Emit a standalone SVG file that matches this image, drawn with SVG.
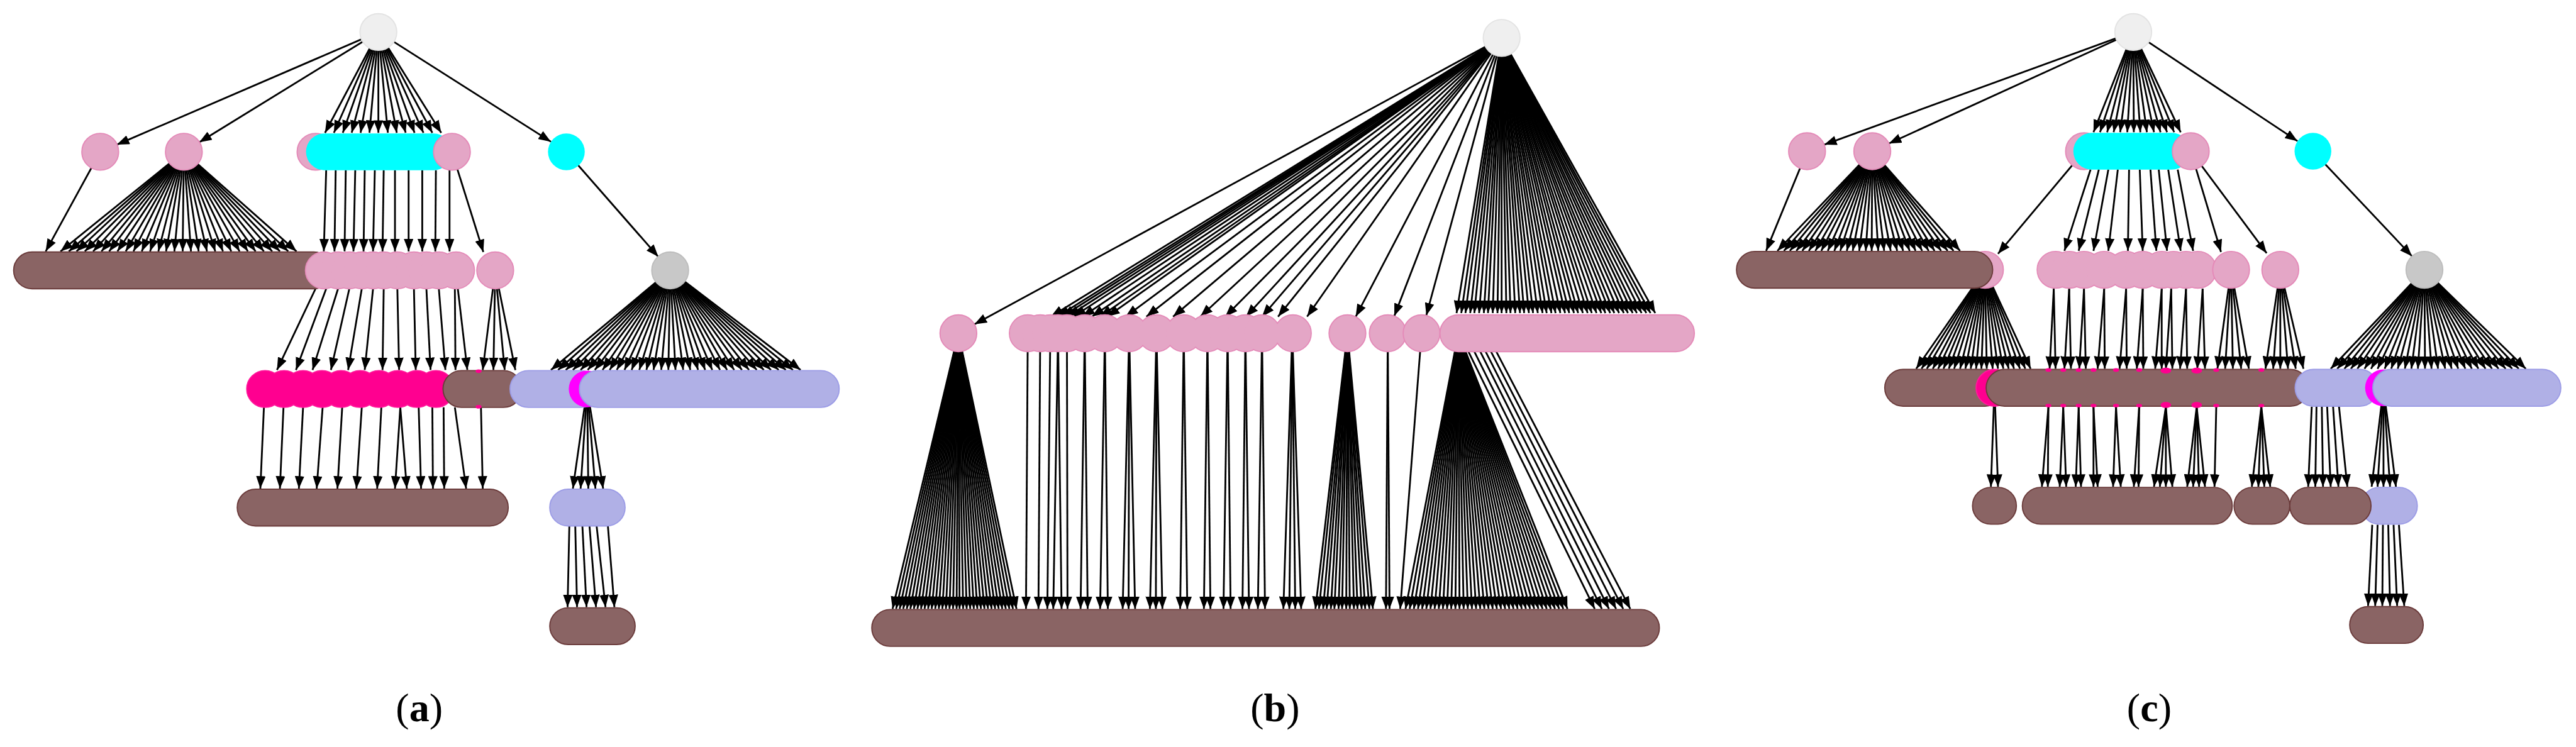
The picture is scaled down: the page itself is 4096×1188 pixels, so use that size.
<svg xmlns="http://www.w3.org/2000/svg" width="4096" height="1188" viewBox="0 0 4096 1188">
<style>
.e line{stroke:#000;stroke-width:3;marker-end:url(#ah)}
.pk{fill:#e4a6c6;stroke:#e48ab8;stroke-width:2}
.pf{fill:#e4a6c6}
.cy{fill:#00ffff}
.br{fill:#8a6464;stroke:#6b3b3b;stroke-width:2}
.lv{fill:#b0b0e6;stroke:#9c9ce6;stroke-width:2}
.mg{fill:#ff0090;stroke:#ff1a9c;stroke-width:2}
.mf{fill:#ff0090}
.mv{fill:#ff00ff}
.rt{fill:#efefef;stroke:#e3e3e3;stroke-width:2}
.gy{fill:#c8c8c8;stroke:#bdbdbd;stroke-width:2}
.lb{font-family:"Liberation Serif","DejaVu Serif",serif;font-size:68px;fill:#000}
</style>
<defs>
<marker id="ah" markerUnits="userSpaceOnUse" markerWidth="21" markerHeight="16" refX="21" refY="8" orient="auto"><path d="M0,0L21,8L0,16z" fill="#000"/></marker>
</defs>
<rect width="4096" height="1188" fill="#fff"/>
<g transform="scale(0.943)">
<g id="connectors" class="e">
<!-- panel a -->
<line x1="638" y1="54" x2="197" y2="244"/>
<line x1="638" y1="54" x2="336" y2="240"/>
<line x1="638" y1="54" x2="929" y2="239"/>
<line x1="638" y1="54" x2="548" y2="224"/><line x1="638" y1="54" x2="563" y2="224"/><line x1="638" y1="54" x2="578" y2="224"/><line x1="638" y1="54" x2="593" y2="224"/><line x1="638" y1="54" x2="608" y2="224"/><line x1="638" y1="54" x2="623" y2="224"/><line x1="638" y1="54" x2="638" y2="224"/><line x1="638" y1="54" x2="654" y2="224"/><line x1="638" y1="54" x2="669" y2="224"/><line x1="638" y1="54" x2="684" y2="224"/><line x1="638" y1="54" x2="699" y2="224"/><line x1="638" y1="54" x2="714" y2="224"/><line x1="638" y1="54" x2="729" y2="224"/><line x1="638" y1="54" x2="744" y2="224"/>
<line x1="169" y1="256" x2="77" y2="424"/>
<line x1="310" y1="256" x2="102" y2="424"/><line x1="310" y1="256" x2="116" y2="424"/><line x1="310" y1="256" x2="129" y2="424"/><line x1="310" y1="256" x2="143" y2="424"/><line x1="310" y1="256" x2="157" y2="424"/><line x1="310" y1="256" x2="171" y2="424"/><line x1="310" y1="256" x2="184" y2="424"/><line x1="310" y1="256" x2="198" y2="424"/><line x1="310" y1="256" x2="212" y2="424"/><line x1="310" y1="256" x2="225" y2="424"/><line x1="310" y1="256" x2="239" y2="424"/><line x1="310" y1="256" x2="253" y2="424"/><line x1="310" y1="256" x2="267" y2="424"/><line x1="310" y1="256" x2="280" y2="424"/><line x1="310" y1="256" x2="294" y2="424"/><line x1="310" y1="256" x2="308" y2="424"/><line x1="310" y1="256" x2="322" y2="424"/><line x1="310" y1="256" x2="335" y2="424"/><line x1="310" y1="256" x2="349" y2="424"/><line x1="310" y1="256" x2="363" y2="424"/><line x1="310" y1="256" x2="376" y2="424"/><line x1="310" y1="256" x2="390" y2="424"/><line x1="310" y1="256" x2="404" y2="424"/><line x1="310" y1="256" x2="418" y2="424"/><line x1="310" y1="256" x2="431" y2="424"/><line x1="310" y1="256" x2="445" y2="424"/><line x1="310" y1="256" x2="459" y2="424"/><line x1="310" y1="256" x2="472" y2="424"/><line x1="310" y1="256" x2="486" y2="424"/><line x1="310" y1="256" x2="500" y2="424"/>
<line x1="550" y1="287" x2="546" y2="424"/><line x1="566" y1="287" x2="564" y2="424"/><line x1="583" y1="287" x2="581" y2="424"/><line x1="599" y1="287" x2="596" y2="424"/><line x1="615" y1="287" x2="613" y2="424"/><line x1="632" y1="287" x2="629" y2="424"/><line x1="647" y1="287" x2="645" y2="424"/><line x1="666" y1="287" x2="666" y2="424"/><line x1="689" y1="287" x2="689" y2="424"/><line x1="712" y1="287" x2="712" y2="424"/><line x1="735" y1="287" x2="734" y2="424"/><line x1="758" y1="287" x2="758" y2="424"/>
<line x1="762" y1="256" x2="815" y2="425"/>
<line x1="955" y1="256" x2="1110" y2="433"/>
<line x1="532" y1="487" x2="467" y2="624"/><line x1="550" y1="487" x2="499" y2="624"/><line x1="570" y1="487" x2="527" y2="624"/><line x1="589" y1="487" x2="558" y2="624"/><line x1="610" y1="487" x2="587" y2="624"/><line x1="629" y1="487" x2="615" y2="624"/><line x1="647" y1="487" x2="645" y2="624"/><line x1="670" y1="487" x2="673" y2="624"/><line x1="698" y1="487" x2="701" y2="624"/><line x1="719" y1="487" x2="726" y2="624"/><line x1="740" y1="487" x2="751" y2="624"/><line x1="767" y1="487" x2="768" y2="624"/><line x1="772" y1="487" x2="788" y2="624"/>
<line x1="835" y1="456" x2="814" y2="624"/><line x1="835" y1="456" x2="832" y2="624"/><line x1="835" y1="456" x2="851" y2="624"/><line x1="835" y1="456" x2="869" y2="624"/>
<line x1="1130" y1="456" x2="929" y2="624"/><line x1="1130" y1="456" x2="941" y2="624"/><line x1="1130" y1="456" x2="954" y2="624"/><line x1="1130" y1="456" x2="966" y2="624"/><line x1="1130" y1="456" x2="979" y2="624"/><line x1="1130" y1="456" x2="991" y2="624"/><line x1="1130" y1="456" x2="1003" y2="624"/><line x1="1130" y1="456" x2="1016" y2="624"/><line x1="1130" y1="456" x2="1028" y2="624"/><line x1="1130" y1="456" x2="1040" y2="624"/><line x1="1130" y1="456" x2="1053" y2="624"/><line x1="1130" y1="456" x2="1065" y2="624"/><line x1="1130" y1="456" x2="1078" y2="624"/><line x1="1130" y1="456" x2="1090" y2="624"/><line x1="1130" y1="456" x2="1102" y2="624"/><line x1="1130" y1="456" x2="1115" y2="624"/><line x1="1130" y1="456" x2="1127" y2="624"/><line x1="1130" y1="456" x2="1139" y2="624"/><line x1="1130" y1="456" x2="1152" y2="624"/><line x1="1130" y1="456" x2="1164" y2="624"/><line x1="1130" y1="456" x2="1177" y2="624"/><line x1="1130" y1="456" x2="1189" y2="624"/><line x1="1130" y1="456" x2="1201" y2="624"/><line x1="1130" y1="456" x2="1214" y2="624"/><line x1="1130" y1="456" x2="1226" y2="624"/><line x1="1130" y1="456" x2="1238" y2="624"/><line x1="1130" y1="456" x2="1251" y2="624"/><line x1="1130" y1="456" x2="1263" y2="624"/><line x1="1130" y1="456" x2="1276" y2="624"/><line x1="1130" y1="456" x2="1288" y2="624"/><line x1="1130" y1="456" x2="1300" y2="624"/><line x1="1130" y1="456" x2="1313" y2="624"/><line x1="1130" y1="456" x2="1325" y2="624"/><line x1="1130" y1="456" x2="1337" y2="624"/><line x1="1130" y1="456" x2="1350" y2="624"/>
<line x1="445" y1="687" x2="439" y2="824"/><line x1="478" y1="687" x2="472" y2="824"/><line x1="511" y1="687" x2="504" y2="824"/><line x1="544" y1="687" x2="534" y2="824"/><line x1="577" y1="687" x2="569" y2="824"/><line x1="610" y1="687" x2="601" y2="824"/><line x1="643" y1="687" x2="636" y2="824"/><line x1="675" y1="687" x2="666" y2="824"/><line x1="675" y1="687" x2="686" y2="824"/><line x1="706" y1="687" x2="710" y2="824"/><line x1="729" y1="687" x2="730" y2="824"/><line x1="748" y1="687" x2="749" y2="824"/><line x1="767" y1="687" x2="786" y2="824"/><line x1="811" y1="687" x2="814" y2="824"/>
<line x1="990" y1="656" x2="966" y2="824"/><line x1="990" y1="656" x2="979" y2="824"/><line x1="990" y1="656" x2="992" y2="824"/><line x1="990" y1="656" x2="1004" y2="824"/><line x1="990" y1="656" x2="1017" y2="824"/>
<line x1="960" y1="887" x2="957" y2="1024"/><line x1="970" y1="887" x2="973" y2="1024"/><line x1="982" y1="887" x2="989" y2="1024"/><line x1="994" y1="887" x2="1005" y2="1024"/><line x1="1006" y1="887" x2="1021" y2="1024"/><line x1="1025" y1="887" x2="1036" y2="1024"/>
<!-- panel b -->
<line x1="2532" y1="64" x2="1643" y2="547"/>
<line x1="2532" y1="64" x2="1772" y2="534"/><line x1="2532" y1="64" x2="1783" y2="534"/><line x1="2532" y1="64" x2="1791" y2="534"/><line x1="2532" y1="64" x2="1800" y2="534"/><line x1="2532" y1="64" x2="1810" y2="534"/><line x1="2532" y1="64" x2="1825" y2="534"/><line x1="2532" y1="64" x2="1841" y2="534"/><line x1="2532" y1="64" x2="1855" y2="534"/><line x1="2532" y1="64" x2="1867" y2="534"/><line x1="2532" y1="64" x2="1898" y2="534"/><line x1="2532" y1="64" x2="1933" y2="534"/><line x1="2532" y1="64" x2="1978" y2="534"/><line x1="2532" y1="64" x2="2024" y2="534"/><line x1="2532" y1="64" x2="2066" y2="534"/><line x1="2532" y1="64" x2="2101" y2="534"/><line x1="2532" y1="64" x2="2128" y2="534"/><line x1="2532" y1="64" x2="2155" y2="534"/><line x1="2532" y1="64" x2="2204" y2="534"/>
<line x1="2532" y1="64" x2="2286" y2="534"/><line x1="2532" y1="64" x2="2351" y2="533"/><line x1="2532" y1="64" x2="2405" y2="532"/>
<line x1="2532" y1="64" x2="2456" y2="528"/><line x1="2532" y1="64" x2="2464" y2="528"/><line x1="2532" y1="64" x2="2471" y2="528"/><line x1="2532" y1="64" x2="2479" y2="528"/><line x1="2532" y1="64" x2="2486" y2="528"/><line x1="2532" y1="64" x2="2494" y2="528"/><line x1="2532" y1="64" x2="2502" y2="528"/><line x1="2532" y1="64" x2="2509" y2="528"/><line x1="2532" y1="64" x2="2517" y2="528"/><line x1="2532" y1="64" x2="2525" y2="528"/><line x1="2532" y1="64" x2="2532" y2="528"/><line x1="2532" y1="64" x2="2540" y2="528"/><line x1="2532" y1="64" x2="2547" y2="528"/><line x1="2532" y1="64" x2="2555" y2="528"/><line x1="2532" y1="64" x2="2563" y2="528"/><line x1="2532" y1="64" x2="2570" y2="528"/><line x1="2532" y1="64" x2="2578" y2="528"/><line x1="2532" y1="64" x2="2585" y2="528"/><line x1="2532" y1="64" x2="2593" y2="528"/><line x1="2532" y1="64" x2="2601" y2="528"/><line x1="2532" y1="64" x2="2608" y2="528"/><line x1="2532" y1="64" x2="2616" y2="528"/><line x1="2532" y1="64" x2="2623" y2="528"/><line x1="2532" y1="64" x2="2631" y2="528"/><line x1="2532" y1="64" x2="2639" y2="528"/><line x1="2532" y1="64" x2="2646" y2="528"/><line x1="2532" y1="64" x2="2654" y2="528"/><line x1="2532" y1="64" x2="2661" y2="528"/><line x1="2532" y1="64" x2="2669" y2="528"/><line x1="2532" y1="64" x2="2677" y2="528"/><line x1="2532" y1="64" x2="2684" y2="528"/><line x1="2532" y1="64" x2="2692" y2="528"/><line x1="2532" y1="64" x2="2700" y2="528"/><line x1="2532" y1="64" x2="2707" y2="528"/><line x1="2532" y1="64" x2="2715" y2="528"/><line x1="2532" y1="64" x2="2722" y2="528"/><line x1="2532" y1="64" x2="2730" y2="528"/><line x1="2532" y1="64" x2="2738" y2="528"/><line x1="2532" y1="64" x2="2745" y2="528"/><line x1="2532" y1="64" x2="2753" y2="528"/><line x1="2532" y1="64" x2="2760" y2="528"/><line x1="2532" y1="64" x2="2768" y2="528"/><line x1="2532" y1="64" x2="2776" y2="528"/><line x1="2532" y1="64" x2="2783" y2="528"/><line x1="2532" y1="64" x2="2791" y2="528"/>
<line x1="1616" y1="562" x2="1505" y2="1027"/><line x1="1616" y1="562" x2="1511" y2="1027"/><line x1="1616" y1="562" x2="1517" y2="1027"/><line x1="1616" y1="562" x2="1523" y2="1027"/><line x1="1616" y1="562" x2="1529" y2="1027"/><line x1="1616" y1="562" x2="1535" y2="1027"/><line x1="1616" y1="562" x2="1541" y2="1027"/><line x1="1616" y1="562" x2="1547" y2="1027"/><line x1="1616" y1="562" x2="1553" y2="1027"/><line x1="1616" y1="562" x2="1559" y2="1027"/><line x1="1616" y1="562" x2="1565" y2="1027"/><line x1="1616" y1="562" x2="1571" y2="1027"/><line x1="1616" y1="562" x2="1577" y2="1027"/><line x1="1616" y1="562" x2="1583" y2="1027"/><line x1="1616" y1="562" x2="1589" y2="1027"/><line x1="1616" y1="562" x2="1595" y2="1027"/><line x1="1616" y1="562" x2="1601" y2="1027"/><line x1="1616" y1="562" x2="1607" y2="1027"/><line x1="1616" y1="562" x2="1613" y2="1027"/><line x1="1616" y1="562" x2="1618" y2="1027"/><line x1="1616" y1="562" x2="1624" y2="1027"/><line x1="1616" y1="562" x2="1630" y2="1027"/><line x1="1616" y1="562" x2="1636" y2="1027"/><line x1="1616" y1="562" x2="1642" y2="1027"/><line x1="1616" y1="562" x2="1648" y2="1027"/><line x1="1616" y1="562" x2="1654" y2="1027"/><line x1="1616" y1="562" x2="1660" y2="1027"/><line x1="1616" y1="562" x2="1666" y2="1027"/><line x1="1616" y1="562" x2="1672" y2="1027"/><line x1="1616" y1="562" x2="1678" y2="1027"/><line x1="1616" y1="562" x2="1684" y2="1027"/><line x1="1616" y1="562" x2="1690" y2="1027"/><line x1="1616" y1="562" x2="1696" y2="1027"/><line x1="1616" y1="562" x2="1702" y2="1027"/><line x1="1616" y1="562" x2="1708" y2="1027"/><line x1="1616" y1="562" x2="1714" y2="1027"/>
<line x1="1733" y1="562" x2="1730" y2="1027"/><line x1="1754" y1="562" x2="1751" y2="1027"/><line x1="1771" y1="562" x2="1766" y2="1027"/><line x1="1784" y1="562" x2="1776" y2="1027"/><line x1="1784" y1="562" x2="1790" y2="1027"/><line x1="1799" y1="562" x2="1800" y2="1027"/><line x1="1829" y1="562" x2="1822" y2="1027"/><line x1="1829" y1="562" x2="1834" y2="1027"/><line x1="1863" y1="562" x2="1855" y2="1027"/><line x1="1863" y1="562" x2="1868" y2="1027"/><line x1="1904" y1="562" x2="1893" y2="1027"/><line x1="1904" y1="562" x2="1903" y2="1027"/><line x1="1904" y1="562" x2="1914" y2="1027"/><line x1="1950" y1="562" x2="1939" y2="1027"/><line x1="1950" y1="562" x2="1949" y2="1027"/><line x1="1950" y1="562" x2="1960" y2="1027"/><line x1="1996" y1="562" x2="1990" y2="1027"/><line x1="1996" y1="562" x2="2002" y2="1027"/><line x1="2036" y1="562" x2="2030" y2="1027"/><line x1="2036" y1="562" x2="2041" y2="1027"/><line x1="2070" y1="562" x2="2063" y2="1027"/><line x1="2070" y1="562" x2="2075" y2="1027"/><line x1="2100" y1="562" x2="2095" y2="1027"/><line x1="2100" y1="562" x2="2106" y2="1027"/><line x1="2128" y1="562" x2="2121" y2="1027"/><line x1="2128" y1="562" x2="2133" y2="1027"/><line x1="2179" y1="562" x2="2164" y2="1027"/><line x1="2179" y1="562" x2="2174" y2="1027"/><line x1="2179" y1="562" x2="2184" y2="1027"/><line x1="2179" y1="562" x2="2194" y2="1027"/>
<line x1="2272" y1="562" x2="2218" y2="1027"/><line x1="2272" y1="562" x2="2224" y2="1027"/><line x1="2272" y1="562" x2="2231" y2="1027"/><line x1="2272" y1="562" x2="2237" y2="1027"/><line x1="2272" y1="562" x2="2244" y2="1027"/><line x1="2272" y1="562" x2="2250" y2="1027"/><line x1="2272" y1="562" x2="2257" y2="1027"/><line x1="2272" y1="562" x2="2263" y2="1027"/><line x1="2272" y1="562" x2="2270" y2="1027"/><line x1="2272" y1="562" x2="2276" y2="1027"/><line x1="2272" y1="562" x2="2283" y2="1027"/><line x1="2272" y1="562" x2="2289" y2="1027"/><line x1="2272" y1="562" x2="2296" y2="1027"/><line x1="2272" y1="562" x2="2302" y2="1027"/><line x1="2272" y1="562" x2="2309" y2="1027"/><line x1="2272" y1="562" x2="2315" y2="1027"/>
<line x1="2340" y1="562" x2="2337" y2="1027"/><line x1="2340" y1="562" x2="2343" y2="1027"/>
<line x1="2397" y1="562" x2="2361" y2="1027"/>
<line x1="2459" y1="562" x2="2370" y2="1027"/><line x1="2459" y1="562" x2="2377" y2="1027"/><line x1="2459" y1="562" x2="2384" y2="1027"/><line x1="2459" y1="562" x2="2391" y2="1027"/><line x1="2459" y1="562" x2="2398" y2="1027"/><line x1="2459" y1="562" x2="2405" y2="1027"/><line x1="2459" y1="562" x2="2412" y2="1027"/><line x1="2459" y1="562" x2="2419" y2="1027"/><line x1="2459" y1="562" x2="2426" y2="1027"/><line x1="2459" y1="562" x2="2433" y2="1027"/><line x1="2459" y1="562" x2="2440" y2="1027"/><line x1="2459" y1="562" x2="2447" y2="1027"/><line x1="2459" y1="562" x2="2454" y2="1027"/><line x1="2459" y1="562" x2="2461" y2="1027"/><line x1="2459" y1="562" x2="2468" y2="1027"/><line x1="2459" y1="562" x2="2475" y2="1027"/><line x1="2459" y1="562" x2="2482" y2="1027"/><line x1="2459" y1="562" x2="2489" y2="1027"/><line x1="2459" y1="562" x2="2496" y2="1027"/><line x1="2459" y1="562" x2="2503" y2="1027"/><line x1="2459" y1="562" x2="2510" y2="1027"/><line x1="2459" y1="562" x2="2517" y2="1027"/><line x1="2459" y1="562" x2="2524" y2="1027"/><line x1="2459" y1="562" x2="2531" y2="1027"/><line x1="2459" y1="562" x2="2538" y2="1027"/><line x1="2459" y1="562" x2="2545" y2="1027"/><line x1="2459" y1="562" x2="2552" y2="1027"/><line x1="2459" y1="562" x2="2559" y2="1027"/><line x1="2459" y1="562" x2="2566" y2="1027"/><line x1="2459" y1="562" x2="2573" y2="1027"/><line x1="2459" y1="562" x2="2580" y2="1027"/><line x1="2459" y1="562" x2="2587" y2="1027"/><line x1="2459" y1="562" x2="2594" y2="1027"/><line x1="2459" y1="562" x2="2601" y2="1027"/><line x1="2459" y1="562" x2="2608" y2="1027"/><line x1="2459" y1="562" x2="2615" y2="1027"/><line x1="2459" y1="562" x2="2622" y2="1027"/><line x1="2459" y1="562" x2="2629" y2="1027"/><line x1="2459" y1="562" x2="2636" y2="1027"/><line x1="2459" y1="562" x2="2643" y2="1027"/>
<line x1="2476" y1="593" x2="2689" y2="1027"/><line x1="2486" y1="593" x2="2701" y2="1027"/><line x1="2496" y1="593" x2="2713" y2="1027"/><line x1="2505" y1="593" x2="2725" y2="1027"/><line x1="2514" y1="593" x2="2737" y2="1027"/><line x1="2523" y1="593" x2="2749" y2="1027"/>
<!-- panel c -->
<line x1="3597" y1="54" x2="3076" y2="244"/>
<line x1="3597" y1="54" x2="3185" y2="242"/>
<line x1="3597" y1="54" x2="3530" y2="223"/><line x1="3597" y1="54" x2="3541" y2="223"/><line x1="3597" y1="54" x2="3553" y2="223"/><line x1="3597" y1="54" x2="3564" y2="223"/><line x1="3597" y1="54" x2="3575" y2="223"/><line x1="3597" y1="54" x2="3587" y2="223"/><line x1="3597" y1="54" x2="3598" y2="223"/><line x1="3597" y1="54" x2="3609" y2="223"/><line x1="3597" y1="54" x2="3620" y2="223"/><line x1="3597" y1="54" x2="3632" y2="223"/><line x1="3597" y1="54" x2="3643" y2="223"/><line x1="3597" y1="54" x2="3654" y2="223"/><line x1="3597" y1="54" x2="3666" y2="223"/><line x1="3597" y1="54" x2="3677" y2="223"/>
<line x1="3597" y1="54" x2="3874" y2="238"/>
<line x1="3047" y1="255" x2="2978" y2="423"/>
<line x1="3157" y1="255" x2="2997" y2="423"/><line x1="3157" y1="255" x2="3008" y2="423"/><line x1="3157" y1="255" x2="3018" y2="423"/><line x1="3157" y1="255" x2="3029" y2="423"/><line x1="3157" y1="255" x2="3039" y2="423"/><line x1="3157" y1="255" x2="3050" y2="423"/><line x1="3157" y1="255" x2="3061" y2="423"/><line x1="3157" y1="255" x2="3071" y2="423"/><line x1="3157" y1="255" x2="3082" y2="423"/><line x1="3157" y1="255" x2="3093" y2="423"/><line x1="3157" y1="255" x2="3103" y2="423"/><line x1="3157" y1="255" x2="3114" y2="423"/><line x1="3157" y1="255" x2="3124" y2="423"/><line x1="3157" y1="255" x2="3135" y2="423"/><line x1="3157" y1="255" x2="3146" y2="423"/><line x1="3157" y1="255" x2="3156" y2="423"/><line x1="3157" y1="255" x2="3167" y2="423"/><line x1="3157" y1="255" x2="3177" y2="423"/><line x1="3157" y1="255" x2="3188" y2="423"/><line x1="3157" y1="255" x2="3199" y2="423"/><line x1="3157" y1="255" x2="3209" y2="423"/><line x1="3157" y1="255" x2="3220" y2="423"/><line x1="3157" y1="255" x2="3230" y2="423"/><line x1="3157" y1="255" x2="3241" y2="423"/><line x1="3157" y1="255" x2="3252" y2="423"/><line x1="3157" y1="255" x2="3262" y2="423"/><line x1="3157" y1="255" x2="3273" y2="423"/><line x1="3157" y1="255" x2="3284" y2="423"/><line x1="3157" y1="255" x2="3294" y2="423"/><line x1="3157" y1="255" x2="3305" y2="423"/>
<line x1="3514" y1="255" x2="3369" y2="428"/>
<line x1="3525" y1="286" x2="3481" y2="423"/><line x1="3539" y1="286" x2="3505" y2="423"/><line x1="3555" y1="286" x2="3530" y2="423"/><line x1="3571" y1="286" x2="3555" y2="423"/><line x1="3590" y1="286" x2="3588" y2="423"/><line x1="3608" y1="286" x2="3613" y2="423"/><line x1="3626" y1="286" x2="3636" y2="423"/><line x1="3640" y1="286" x2="3654" y2="423"/><line x1="3656" y1="286" x2="3677" y2="423"/><line x1="3672" y1="286" x2="3698" y2="423"/>
<line x1="3694" y1="255" x2="3745" y2="425"/>
<line x1="3694" y1="255" x2="3822" y2="427"/>
<line x1="3900" y1="255" x2="4067" y2="432"/>
<line x1="3347" y1="455" x2="3231" y2="622"/><line x1="3347" y1="455" x2="3240" y2="622"/><line x1="3347" y1="455" x2="3249" y2="622"/><line x1="3347" y1="455" x2="3259" y2="622"/><line x1="3347" y1="455" x2="3268" y2="622"/><line x1="3347" y1="455" x2="3277" y2="622"/><line x1="3347" y1="455" x2="3286" y2="622"/><line x1="3347" y1="455" x2="3295" y2="622"/><line x1="3347" y1="455" x2="3305" y2="622"/><line x1="3347" y1="455" x2="3314" y2="622"/><line x1="3347" y1="455" x2="3323" y2="622"/><line x1="3347" y1="455" x2="3332" y2="622"/><line x1="3347" y1="455" x2="3341" y2="622"/><line x1="3347" y1="455" x2="3350" y2="622"/><line x1="3347" y1="455" x2="3360" y2="622"/><line x1="3347" y1="455" x2="3369" y2="622"/><line x1="3347" y1="455" x2="3378" y2="622"/><line x1="3347" y1="455" x2="3387" y2="622"/><line x1="3347" y1="455" x2="3396" y2="622"/><line x1="3347" y1="455" x2="3406" y2="622"/><line x1="3347" y1="455" x2="3415" y2="622"/><line x1="3347" y1="455" x2="3424" y2="622"/>
<line x1="3463" y1="487" x2="3456" y2="622"/><line x1="3463" y1="487" x2="3466" y2="622"/><line x1="3489" y1="487" x2="3481" y2="622"/><line x1="3489" y1="487" x2="3492" y2="622"/><line x1="3514" y1="487" x2="3506" y2="622"/><line x1="3514" y1="487" x2="3517" y2="622"/><line x1="3548" y1="487" x2="3537" y2="622"/><line x1="3548" y1="487" x2="3549" y2="622"/><line x1="3585" y1="487" x2="3574" y2="622"/><line x1="3585" y1="487" x2="3586" y2="622"/><line x1="3613" y1="487" x2="3603" y2="622"/><line x1="3613" y1="487" x2="3614" y2="622"/><line x1="3645" y1="487" x2="3634" y2="622"/><line x1="3645" y1="487" x2="3645" y2="622"/><line x1="3661" y1="487" x2="3652" y2="622"/><line x1="3661" y1="487" x2="3663" y2="622"/><line x1="3686" y1="487" x2="3676" y2="622"/><line x1="3686" y1="487" x2="3688" y2="622"/><line x1="3714" y1="487" x2="3705" y2="622"/><line x1="3714" y1="487" x2="3718" y2="622"/>
<line x1="3762" y1="455" x2="3739" y2="622"/><line x1="3762" y1="455" x2="3752" y2="622"/><line x1="3762" y1="455" x2="3765" y2="622"/><line x1="3762" y1="455" x2="3779" y2="622"/><line x1="3762" y1="455" x2="3792" y2="622"/>
<line x1="3845" y1="455" x2="3820" y2="622"/><line x1="3845" y1="455" x2="3833" y2="622"/><line x1="3845" y1="455" x2="3845" y2="622"/><line x1="3845" y1="455" x2="3858" y2="622"/><line x1="3845" y1="455" x2="3871" y2="622"/><line x1="3845" y1="455" x2="3884" y2="622"/>
<line x1="4088" y1="455" x2="3930" y2="622"/><line x1="4088" y1="455" x2="3941" y2="622"/><line x1="4088" y1="455" x2="3953" y2="622"/><line x1="4088" y1="455" x2="3964" y2="622"/><line x1="4088" y1="455" x2="3975" y2="622"/><line x1="4088" y1="455" x2="3987" y2="622"/><line x1="4088" y1="455" x2="3998" y2="622"/><line x1="4088" y1="455" x2="4009" y2="622"/><line x1="4088" y1="455" x2="4021" y2="622"/><line x1="4088" y1="455" x2="4032" y2="622"/><line x1="4088" y1="455" x2="4043" y2="622"/><line x1="4088" y1="455" x2="4055" y2="622"/><line x1="4088" y1="455" x2="4066" y2="622"/><line x1="4088" y1="455" x2="4077" y2="622"/><line x1="4088" y1="455" x2="4089" y2="622"/><line x1="4088" y1="455" x2="4100" y2="622"/><line x1="4088" y1="455" x2="4111" y2="622"/><line x1="4088" y1="455" x2="4123" y2="622"/><line x1="4088" y1="455" x2="4134" y2="622"/><line x1="4088" y1="455" x2="4145" y2="622"/><line x1="4088" y1="455" x2="4157" y2="622"/><line x1="4088" y1="455" x2="4168" y2="622"/><line x1="4088" y1="455" x2="4179" y2="622"/><line x1="4088" y1="455" x2="4191" y2="622"/><line x1="4088" y1="455" x2="4202" y2="622"/><line x1="4088" y1="455" x2="4213" y2="622"/><line x1="4088" y1="455" x2="4225" y2="622"/><line x1="4088" y1="455" x2="4236" y2="622"/><line x1="4088" y1="455" x2="4247" y2="622"/><line x1="4088" y1="455" x2="4259" y2="622"/>
<line x1="3363" y1="654" x2="3357" y2="821"/><line x1="3363" y1="654" x2="3369" y2="821"/>
<line x1="3454" y1="686" x2="3443" y2="821"/><line x1="3454" y1="686" x2="3453" y2="821"/><line x1="3479" y1="686" x2="3473" y2="821"/><line x1="3479" y1="686" x2="3484" y2="821"/><line x1="3505" y1="686" x2="3500" y2="821"/><line x1="3505" y1="686" x2="3509" y2="821"/><line x1="3530" y1="686" x2="3530" y2="821"/><line x1="3530" y1="686" x2="3537" y2="821"/><line x1="3568" y1="686" x2="3563" y2="821"/><line x1="3568" y1="686" x2="3576" y2="821"/><line x1="3607" y1="686" x2="3598" y2="821"/><line x1="3607" y1="686" x2="3606" y2="821"/><line x1="3652" y1="686" x2="3632" y2="821"/><line x1="3652" y1="686" x2="3642" y2="821"/><line x1="3652" y1="686" x2="3652" y2="821"/><line x1="3652" y1="686" x2="3663" y2="821"/><line x1="3704" y1="686" x2="3688" y2="821"/><line x1="3704" y1="686" x2="3698" y2="821"/><line x1="3704" y1="686" x2="3708" y2="821"/><line x1="3704" y1="686" x2="3718" y2="821"/><line x1="3737" y1="686" x2="3734" y2="821"/>
<line x1="3813" y1="686" x2="3797" y2="821"/><line x1="3813" y1="686" x2="3808" y2="821"/><line x1="3813" y1="686" x2="3818" y2="821"/><line x1="3813" y1="686" x2="3828" y2="821"/>
<line x1="3898" y1="686" x2="3892" y2="821"/><line x1="3906" y1="686" x2="3904" y2="821"/><line x1="3915" y1="686" x2="3917" y2="821"/><line x1="3924" y1="686" x2="3930" y2="821"/><line x1="3934" y1="686" x2="3943" y2="821"/><line x1="3944" y1="686" x2="3958" y2="821"/>
<line x1="4019" y1="654" x2="3999" y2="821"/><line x1="4019" y1="654" x2="4009" y2="821"/><line x1="4019" y1="654" x2="4019" y2="821"/><line x1="4019" y1="654" x2="4030" y2="821"/><line x1="4019" y1="654" x2="4040" y2="821"/>
<line x1="4000" y1="885" x2="3993" y2="1022"/><line x1="4009" y1="885" x2="4005" y2="1022"/><line x1="4018" y1="885" x2="4017" y2="1022"/><line x1="4027" y1="885" x2="4030" y2="1022"/><line x1="4036" y1="885" x2="4042" y2="1022"/><line x1="4045" y1="885" x2="4054" y2="1022"/>
</g>
<!-- nodes panel a -->
<g id="a-root"><circle class="rt" cx="638" cy="54" r="31"/></g>
<g id="a-p1"><circle class="pk" cx="169" cy="256" r="31"/></g>
<g id="a-p2"><circle class="pk" cx="310" cy="256" r="31"/></g>
<g id="a-cyan-stack"><circle class="pk" cx="532" cy="256" r="31"/><rect class="cy" x="516" y="225" width="246" height="62" rx="31"/><circle class="pk" cx="762" cy="256" r="31"/></g>
<g id="a-cyan"><circle class="cy" cx="955" cy="256" r="31"/></g>
<g id="a-brown1"><rect class="br" x="23" y="425" width="537" height="62" rx="31"/></g>
<g id="a-pink-stack"><circle class="pk" cx="546" cy="456" r="31"/><circle class="pk" cx="570" cy="456" r="31"/><circle class="pk" cx="589" cy="456" r="31"/><circle class="pk" cx="610" cy="456" r="31"/><circle class="pk" cx="629" cy="456" r="31"/><circle class="pk" cx="647" cy="456" r="31"/><circle class="pk" cx="670" cy="456" r="31"/><circle class="pk" cx="698" cy="456" r="31"/><circle class="pk" cx="719" cy="456" r="31"/><circle class="pk" cx="740" cy="456" r="31"/><circle class="pk" cx="769" cy="456" r="31"/><circle class="pf" cx="546" cy="456" r="30"/><circle class="pf" cx="570" cy="456" r="30"/><circle class="pf" cx="589" cy="456" r="30"/><circle class="pf" cx="610" cy="456" r="30"/><circle class="pf" cx="629" cy="456" r="30"/><circle class="pf" cx="647" cy="456" r="30"/><circle class="pf" cx="670" cy="456" r="30"/><circle class="pf" cx="698" cy="456" r="30"/><circle class="pf" cx="719" cy="456" r="30"/><circle class="pf" cx="740" cy="456" r="30"/><circle class="pf" cx="769" cy="456" r="30"/></g>
<g id="a-p3"><circle class="pk" cx="835" cy="456" r="31"/></g>
<g id="a-grey"><circle class="gy" cx="1130" cy="456" r="31"/></g>
<g id="a-magenta-stack"><circle class="mg" cx="447" cy="656" r="31"/><circle class="mg" cx="479" cy="656" r="31"/><circle class="mg" cx="511" cy="656" r="31"/><circle class="mg" cx="543" cy="656" r="31"/><circle class="mg" cx="575" cy="656" r="31"/><circle class="mg" cx="607" cy="656" r="31"/><circle class="mg" cx="639" cy="656" r="31"/><circle class="mg" cx="671" cy="656" r="31"/><circle class="mg" cx="703" cy="656" r="31"/><circle class="mg" cx="735" cy="656" r="31"/><circle class="mf" cx="447" cy="656" r="30"/><circle class="mf" cx="479" cy="656" r="30"/><circle class="mf" cx="511" cy="656" r="30"/><circle class="mf" cx="543" cy="656" r="30"/><circle class="mf" cx="575" cy="656" r="30"/><circle class="mf" cx="607" cy="656" r="30"/><circle class="mf" cx="639" cy="656" r="30"/><circle class="mf" cx="671" cy="656" r="30"/><circle class="mf" cx="703" cy="656" r="30"/><circle class="mf" cx="735" cy="656" r="30"/></g>
<g id="a-brown2"><rect class="br" x="747" y="625" width="133" height="62" rx="31"/><ellipse class="mf" cx="807" cy="626" rx="5" ry="3"/><ellipse class="mf" cx="807" cy="686" rx="5" ry="3"/></g>
<g id="a-lav1"><rect class="lv" x="860" y="625" width="150" height="62" rx="31"/></g>
<g id="a-violet"><circle class="mv" cx="990" cy="656" r="31"/></g>
<g id="a-lav2"><rect class="lv" x="977" y="625" width="438" height="62" rx="31"/></g>
<g id="a-brown3"><rect class="br" x="400" y="825" width="457" height="62" rx="31"/></g>
<g id="a-lav3"><rect class="lv" x="927" y="825" width="127" height="62" rx="31"/></g>
<g id="a-brown4"><rect class="br" x="927" y="1025" width="144" height="62" rx="31"/></g>
<!-- nodes panel b -->
<g id="b-root"><circle class="rt" cx="2532" cy="64" r="31"/></g>
<g id="b-p1"><circle class="pk" cx="1616" cy="562" r="31"/></g>
<g id="b-pink-stack"><circle class="pk" cx="1733" cy="562" r="31"/><circle class="pk" cx="1754" cy="562" r="31"/><circle class="pk" cx="1771" cy="562" r="31"/><circle class="pk" cx="1784" cy="562" r="31"/><circle class="pk" cx="1799" cy="562" r="31"/><circle class="pk" cx="1829" cy="562" r="31"/><circle class="pk" cx="1863" cy="562" r="31"/><circle class="pk" cx="1904" cy="562" r="31"/><circle class="pk" cx="1950" cy="562" r="31"/><circle class="pk" cx="1996" cy="562" r="31"/><circle class="pk" cx="2036" cy="562" r="31"/><circle class="pk" cx="2070" cy="562" r="31"/><circle class="pk" cx="2100" cy="562" r="31"/><circle class="pk" cx="2128" cy="562" r="31"/><circle class="pk" cx="2180" cy="562" r="31"/><circle class="pf" cx="1733" cy="562" r="30"/><circle class="pf" cx="1754" cy="562" r="30"/><circle class="pf" cx="1771" cy="562" r="30"/><circle class="pf" cx="1784" cy="562" r="30"/><circle class="pf" cx="1799" cy="562" r="30"/><circle class="pf" cx="1829" cy="562" r="30"/><circle class="pf" cx="1863" cy="562" r="30"/><circle class="pf" cx="1904" cy="562" r="30"/><circle class="pf" cx="1950" cy="562" r="30"/><circle class="pf" cx="1996" cy="562" r="30"/><circle class="pf" cx="2036" cy="562" r="30"/><circle class="pf" cx="2070" cy="562" r="30"/><circle class="pf" cx="2100" cy="562" r="30"/><circle class="pf" cx="2128" cy="562" r="30"/><circle class="pf" cx="2180" cy="562" r="30"/></g>
<g id="b-p2"><circle class="pk" cx="2272" cy="562" r="31"/></g>
<g id="b-p3"><circle class="pk" cx="2340" cy="562" r="31"/></g>
<g id="b-p4"><circle class="pk" cx="2397" cy="562" r="31"/></g>
<g id="b-pink-long"><rect class="pk" x="2428" y="531" width="429" height="62" rx="31"/></g>
<g id="b-brown"><rect class="br" x="1470" y="1028" width="1328" height="62" rx="31"/></g>
<!-- nodes panel c -->
<g id="c-root"><circle class="rt" cx="3597" cy="54" r="31"/></g>
<g id="c-p1"><circle class="pk" cx="3047" cy="255" r="31"/></g>
<g id="c-p2"><circle class="pk" cx="3157" cy="255" r="31"/></g>
<g id="c-cyan-stack"><circle class="pk" cx="3514" cy="255" r="31"/><rect class="cy" x="3496" y="224" width="197" height="62" rx="31"/><circle class="pk" cx="3694" cy="255" r="31"/></g>
<g id="c-cyan"><circle class="cy" cx="3900" cy="255" r="31"/></g>
<g id="c-p3"><circle class="pk" cx="3347" cy="455" r="31"/></g>
<g id="c-brown1"><rect class="br" x="2928" y="424" width="432" height="62" rx="31"/></g>
<g id="c-pink-stack"><circle class="pk" cx="3466" cy="455" r="31"/><circle class="pk" cx="3489" cy="455" r="31"/><circle class="pk" cx="3514" cy="455" r="31"/><circle class="pk" cx="3548" cy="455" r="31"/><circle class="pk" cx="3585" cy="455" r="31"/><circle class="pk" cx="3613" cy="455" r="31"/><circle class="pk" cx="3645" cy="455" r="31"/><circle class="pk" cx="3665" cy="455" r="31"/><circle class="pk" cx="3686" cy="455" r="31"/><circle class="pk" cx="3706" cy="455" r="31"/><circle class="pf" cx="3466" cy="455" r="30"/><circle class="pf" cx="3489" cy="455" r="30"/><circle class="pf" cx="3514" cy="455" r="30"/><circle class="pf" cx="3548" cy="455" r="30"/><circle class="pf" cx="3585" cy="455" r="30"/><circle class="pf" cx="3613" cy="455" r="30"/><circle class="pf" cx="3645" cy="455" r="30"/><circle class="pf" cx="3665" cy="455" r="30"/><circle class="pf" cx="3686" cy="455" r="30"/><circle class="pf" cx="3706" cy="455" r="30"/></g>
<g id="c-p4"><circle class="pk" cx="3762" cy="455" r="31"/></g>
<g id="c-p5"><circle class="pk" cx="3845" cy="455" r="31"/></g>
<g id="c-grey"><circle class="gy" cx="4088" cy="455" r="31"/></g>
<g id="c-brown2"><rect class="br" x="3178" y="623" width="200" height="62" rx="31"/></g>
<g id="c-magenta"><circle class="mg" cx="3363" cy="654" r="31"/></g>
<g id="c-brown3"><rect class="br" x="3349" y="623" width="544" height="62" rx="31"/>
<ellipse class="mf" cx="3454" cy="624" rx="5" ry="3"/><ellipse class="mf" cx="3479" cy="624" rx="5" ry="3"/><ellipse class="mf" cx="3505" cy="624" rx="5" ry="3"/><ellipse class="mf" cx="3530" cy="624" rx="5" ry="3"/><ellipse class="mf" cx="3568" cy="624" rx="5" ry="3"/><ellipse class="mf" cx="3607" cy="624" rx="5" ry="3"/><ellipse class="mf" cx="3652" cy="625" rx="9" ry="5"/><ellipse class="mf" cx="3704" cy="625" rx="9" ry="5"/><ellipse class="mf" cx="3737" cy="624" rx="5" ry="3"/><ellipse class="mf" cx="3813" cy="624" rx="5" ry="3"/>
<ellipse class="mf" cx="3454" cy="684" rx="5" ry="3"/><ellipse class="mf" cx="3479" cy="684" rx="5" ry="3"/><ellipse class="mf" cx="3505" cy="684" rx="5" ry="3"/><ellipse class="mf" cx="3530" cy="684" rx="5" ry="3"/><ellipse class="mf" cx="3568" cy="684" rx="5" ry="3"/><ellipse class="mf" cx="3607" cy="684" rx="5" ry="3"/><ellipse class="mf" cx="3652" cy="683" rx="9" ry="5"/><ellipse class="mf" cx="3704" cy="683" rx="9" ry="5"/><ellipse class="mf" cx="3737" cy="684" rx="5" ry="3"/><ellipse class="mf" cx="3813" cy="684" rx="5" ry="3"/></g>
<g id="c-lav1"><rect class="lv" x="3870" y="623" width="140" height="62" rx="31"/></g>
<g id="c-violet"><circle class="mv" cx="4019" cy="654" r="31"/></g>
<g id="c-lav2"><rect class="lv" x="4001" y="623" width="317" height="62" rx="31"/></g>
<g id="c-brown4"><rect class="br" x="3326" y="822" width="74" height="62" rx="31"/></g>
<g id="c-lav3"><rect class="lv" x="3981" y="822" width="95" height="62" rx="31"/></g>
<g id="c-brown5"><rect class="br" x="3410" y="822" width="354" height="62" rx="31"/></g>
<g id="c-brown6"><rect class="br" x="3767" y="822" width="94" height="62" rx="31"/></g>
<g id="c-brown7"><rect class="br" x="3861" y="822" width="137" height="62" rx="31"/></g>
<g id="c-brown8"><rect class="br" x="3962" y="1023" width="124" height="62" rx="31"/></g>
<!-- labels -->
<text class="lb" x="707" y="1216" text-anchor="middle">(<tspan font-weight="bold">a</tspan>)</text>
<text class="lb" x="2150" y="1216" text-anchor="middle">(<tspan font-weight="bold">b</tspan>)</text>
<text class="lb" x="3624" y="1216" text-anchor="middle">(<tspan font-weight="bold">c</tspan>)</text>
</g>
</svg>
